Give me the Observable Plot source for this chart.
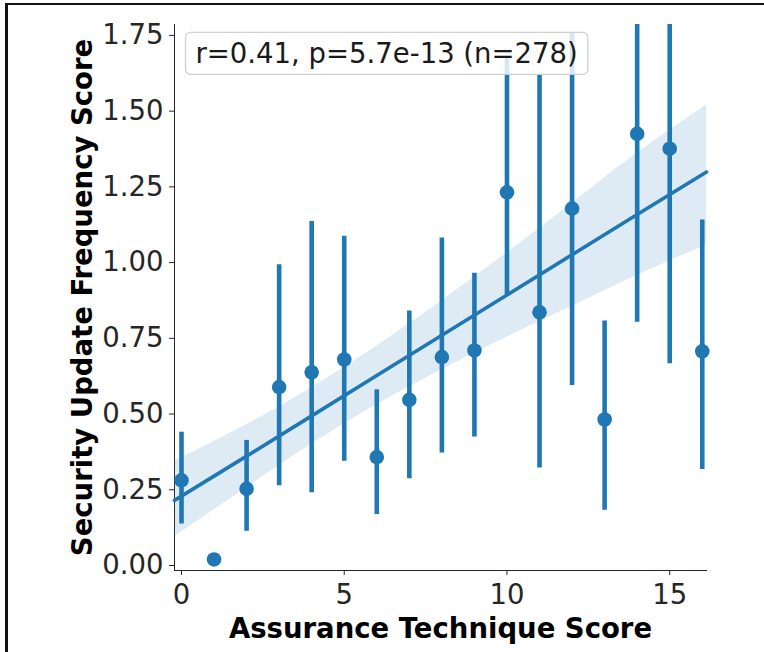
<!DOCTYPE html>
<html><head><meta charset="utf-8">
<script src="https://cdn.jsdelivr.net/npm/d3@7"></script>
<script src="https://cdn.jsdelivr.net/npm/@observablehq/plot@0.6"></script>
<style>
html,body{margin:0;padding:0;background:#fff;}
#wrap{position:relative;width:764px;height:652px;overflow:hidden;}
#chart svg{display:block;}
#frameTop{position:absolute;left:5px;top:3px;width:759px;height:2px;background:#111;}
#frameLeft{position:absolute;left:5px;top:3px;width:3px;height:649px;background:#111;}
</style></head><body>
<div id="wrap"><div id="chart"></div><div id="frameTop"></div><div id="frameLeft"></div></div>
<script>
// Binned estimates (mean and 95% CI) per assurance technique score
const scores = [0, 1, 2, 3, 4, 5, 6, 7, 8, 9, 10, 11, 12, 13, 14, 15, 16];
const means  = [0.281, 0.020, 0.253, 0.589, 0.638, 0.680, 0.358, 0.547, 0.688, 0.710, 1.232, 0.836, 1.178, 0.482, 1.425, 1.376, 0.707];
const ciLow  = [0.137, NaN, 0.113, 0.263, 0.240, 0.344, 0.168, 0.286, 0.371, 0.424, 0.895, 0.322, 0.594, 0.182, 0.803, 0.666, 0.317];
const ciHigh = [0.440, NaN, 0.413, 0.993, 1.136, 1.087, 0.580, 0.840, 1.081, 0.965, 1.678, 1.620, 1.760, 0.807, 1.900, 1.900, 1.141];

// Regression fit and its confidence band
const fitX     = [-0.215, 2, 4, 6, 8, 10, 12, 14, 16.13];
const fitY     = [0.215, 0.361, 0.494, 0.627, 0.760, 0.893, 1.026, 1.159, 1.299];
const bandLow  = [0.095, 0.257, 0.401, 0.531, 0.646, 0.754, 0.856, 0.957, 1.058];
const bandHigh = [0.345, 0.465, 0.587, 0.724, 0.874, 1.032, 1.196, 1.361, 1.520];

const xTicks = [0, 5, 10, 15];
const yTicks = [0, 0.25, 0.5, 0.75, 1.0, 1.25, 1.5, 1.75];
const xDomain = [-0.215, 16.13];
const yDomain = [-0.0165, 1.786];
const xLabel = "Assurance Technique Score";
const yLabel = "Security Update Frequency Score";
const annotation = "r=0.41, p=5.7e-13 (n=278)";

const color = "#1f77b4";
const points = scores.map((s, i) => ({x: s, mean: means[i], lo: ciLow[i], hi: ciHigh[i]}));
const bars = points.filter(d => Number.isFinite(d.lo) && Number.isFinite(d.hi));
const band = fitX.map((x, i) => ({x, fit: fitY[i], lo: bandLow[i], hi: bandHigh[i]}));

const FS = 27.5;
const chart = Plot.plot({
  width: 764, height: 652,
  marginLeft: 174, marginRight: 58, marginTop: 24, marginBottom: 82,
  style: {fontFamily: "DejaVu Sans", fontSize: FS + "px", color: "#262626", background: "transparent", overflow: "visible"},
  x: {domain: xDomain, ticks: xTicks, tickSize: 5, tickPadding: 9, label: null, line: true},
  y: {domain: yDomain, ticks: yTicks, tickSize: 5, tickPadding: 6, label: null, line: true, tickFormat: d3.format(".2f")},
  marks: [
    Plot.areaY(band, {x: "x", y1: "lo", y2: "hi", fill: color, fillOpacity: 0.15, curve: "natural"}),
    Plot.ruleX(bars, {x: "x", y1: "lo", y2: "hi", stroke: color, strokeWidth: 4.6, clip: true}),
    Plot.dot(points, {x: "x", y: "mean", r: 7.3, fill: color, stroke: "none"}),
    Plot.line(band, {x: "x", y: "fit", stroke: color, strokeWidth: 3.6}),
    Plot.text([xLabel], {text: d => d, frameAnchor: "bottom", textAnchor: "middle", lineAnchor: "middle", dy: 59, fontWeight: "bold", fontSize: FS, fill: "#000"}),
    Plot.text([yLabel], {text: d => d, frameAnchor: "left", textAnchor: "middle", lineAnchor: "middle", rotate: -90, dx: -91, fontWeight: "bold", fontSize: FS, fill: "#000"}),
    Plot.text([annotation], {text: d => d, frameAnchor: "top-left", textAnchor: "start", lineAnchor: "middle", dx: 21, dy: 30, fontSize: FS, fill: "#1a1a1a"})
  ]
});
document.getElementById("chart").appendChild(chart);

// legend-style rounded box behind the annotation text
const svg = chart.tagName.toLowerCase() === "svg" ? chart : chart.querySelector("svg");
const txt = Array.from(svg.querySelectorAll("text")).find(t => t.textContent === annotation);
if (txt) {
  const sb = svg.getBoundingClientRect();
  const tb = txt.getBoundingClientRect();
  let g = txt;
  while (g.parentNode && g.parentNode !== svg) g = g.parentNode;
  const rect = document.createElementNS("http://www.w3.org/2000/svg", "rect");
  rect.setAttribute("x", tb.left - sb.left - 10);
  rect.setAttribute("y", tb.top - sb.top - 5);
  rect.setAttribute("width", tb.width + 20);
  rect.setAttribute("height", tb.height + 10);
  rect.setAttribute("rx", 5);
  rect.setAttribute("fill", "#fff");
  rect.setAttribute("fill-opacity", 0.82);
  rect.setAttribute("stroke", "#d0d0d0");
  rect.setAttribute("stroke-width", 1.3);
  svg.insertBefore(rect, g);
}
</script>
</body></html>
